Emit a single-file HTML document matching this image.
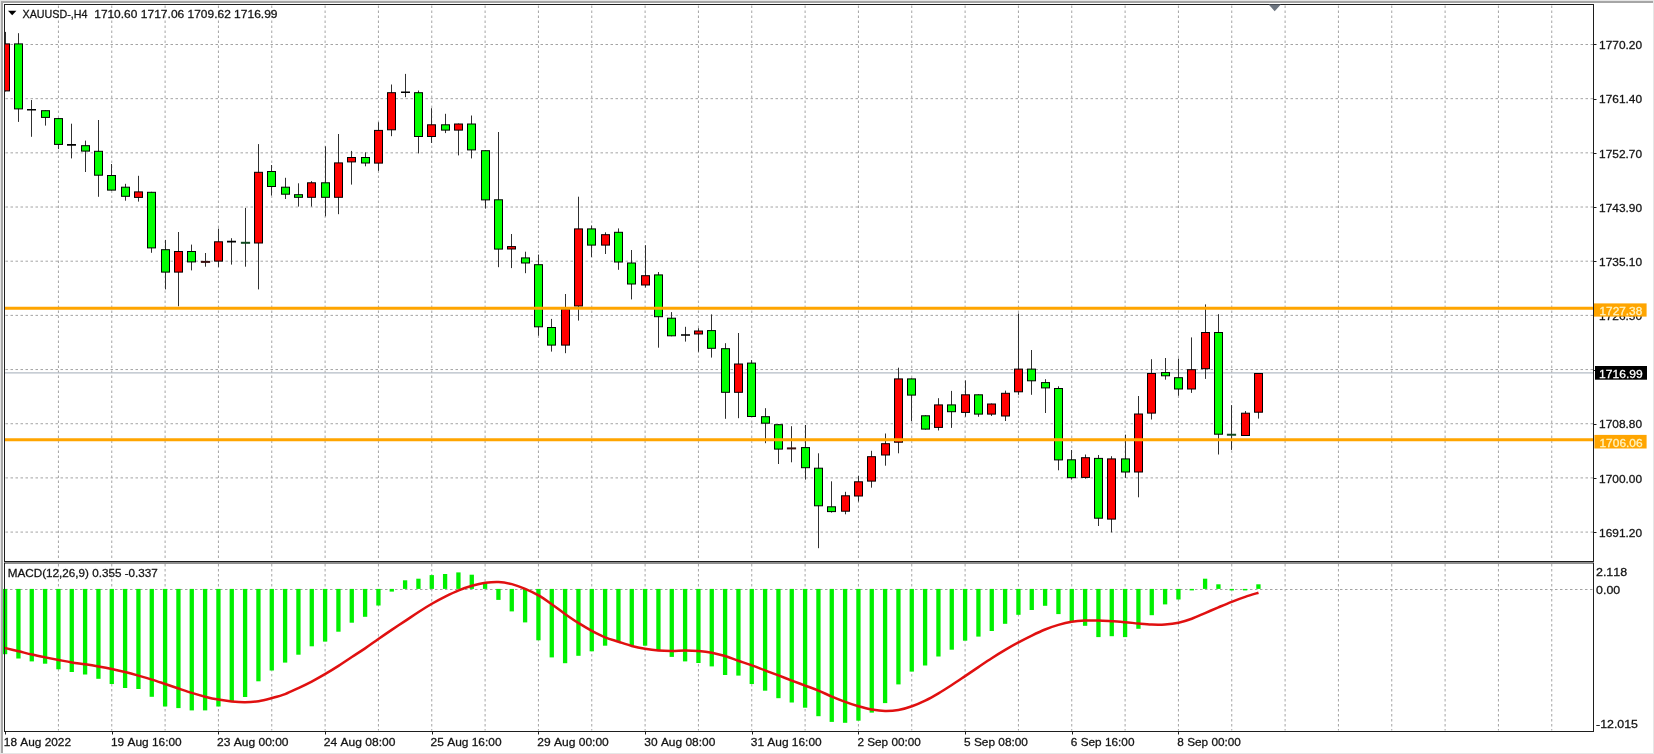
<!DOCTYPE html><html><head><meta charset="utf-8"><style>
html,body{margin:0;padding:0;background:#fff;}
body{width:1654px;height:754px;overflow:hidden;position:relative;font-family:"Liberation Sans", sans-serif;}
svg{position:absolute;left:0;top:0;will-change:transform;}
</style></head><body>
<svg width="1654" height="754" viewBox="0 0 1654 754">
<rect x="0" y="0" width="1654" height="754" fill="#e6e6e6"/>
<rect x="1" y="1" width="1652" height="752" fill="#a6a6a6"/>
<rect x="3" y="3" width="1650" height="750" fill="#ffffff"/>
<line x1="58.43" y1="5.5" x2="58.43" y2="560.5" stroke="#a4a4a4" stroke-width="1" stroke-dasharray="2.5 2.5"/>
<line x1="58.43" y1="564.0" x2="58.43" y2="730.5" stroke="#a4a4a4" stroke-width="1" stroke-dasharray="2.5 2.5"/>
<line x1="111.77" y1="5.5" x2="111.77" y2="560.5" stroke="#a4a4a4" stroke-width="1" stroke-dasharray="2.5 2.5"/>
<line x1="111.77" y1="564.0" x2="111.77" y2="730.5" stroke="#a4a4a4" stroke-width="1" stroke-dasharray="2.5 2.5"/>
<line x1="165.1" y1="5.5" x2="165.1" y2="560.5" stroke="#a4a4a4" stroke-width="1" stroke-dasharray="2.5 2.5"/>
<line x1="165.1" y1="564.0" x2="165.1" y2="730.5" stroke="#a4a4a4" stroke-width="1" stroke-dasharray="2.5 2.5"/>
<line x1="218.43" y1="5.5" x2="218.43" y2="560.5" stroke="#a4a4a4" stroke-width="1" stroke-dasharray="2.5 2.5"/>
<line x1="218.43" y1="564.0" x2="218.43" y2="730.5" stroke="#a4a4a4" stroke-width="1" stroke-dasharray="2.5 2.5"/>
<line x1="271.77" y1="5.5" x2="271.77" y2="560.5" stroke="#a4a4a4" stroke-width="1" stroke-dasharray="2.5 2.5"/>
<line x1="271.77" y1="564.0" x2="271.77" y2="730.5" stroke="#a4a4a4" stroke-width="1" stroke-dasharray="2.5 2.5"/>
<line x1="325.1" y1="5.5" x2="325.1" y2="560.5" stroke="#a4a4a4" stroke-width="1" stroke-dasharray="2.5 2.5"/>
<line x1="325.1" y1="564.0" x2="325.1" y2="730.5" stroke="#a4a4a4" stroke-width="1" stroke-dasharray="2.5 2.5"/>
<line x1="378.43" y1="5.5" x2="378.43" y2="560.5" stroke="#a4a4a4" stroke-width="1" stroke-dasharray="2.5 2.5"/>
<line x1="378.43" y1="564.0" x2="378.43" y2="730.5" stroke="#a4a4a4" stroke-width="1" stroke-dasharray="2.5 2.5"/>
<line x1="431.77" y1="5.5" x2="431.77" y2="560.5" stroke="#a4a4a4" stroke-width="1" stroke-dasharray="2.5 2.5"/>
<line x1="431.77" y1="564.0" x2="431.77" y2="730.5" stroke="#a4a4a4" stroke-width="1" stroke-dasharray="2.5 2.5"/>
<line x1="485.1" y1="5.5" x2="485.1" y2="560.5" stroke="#a4a4a4" stroke-width="1" stroke-dasharray="2.5 2.5"/>
<line x1="485.1" y1="564.0" x2="485.1" y2="730.5" stroke="#a4a4a4" stroke-width="1" stroke-dasharray="2.5 2.5"/>
<line x1="538.43" y1="5.5" x2="538.43" y2="560.5" stroke="#a4a4a4" stroke-width="1" stroke-dasharray="2.5 2.5"/>
<line x1="538.43" y1="564.0" x2="538.43" y2="730.5" stroke="#a4a4a4" stroke-width="1" stroke-dasharray="2.5 2.5"/>
<line x1="591.77" y1="5.5" x2="591.77" y2="560.5" stroke="#a4a4a4" stroke-width="1" stroke-dasharray="2.5 2.5"/>
<line x1="591.77" y1="564.0" x2="591.77" y2="730.5" stroke="#a4a4a4" stroke-width="1" stroke-dasharray="2.5 2.5"/>
<line x1="645.1" y1="5.5" x2="645.1" y2="560.5" stroke="#a4a4a4" stroke-width="1" stroke-dasharray="2.5 2.5"/>
<line x1="645.1" y1="564.0" x2="645.1" y2="730.5" stroke="#a4a4a4" stroke-width="1" stroke-dasharray="2.5 2.5"/>
<line x1="698.43" y1="5.5" x2="698.43" y2="560.5" stroke="#a4a4a4" stroke-width="1" stroke-dasharray="2.5 2.5"/>
<line x1="698.43" y1="564.0" x2="698.43" y2="730.5" stroke="#a4a4a4" stroke-width="1" stroke-dasharray="2.5 2.5"/>
<line x1="751.76" y1="5.5" x2="751.76" y2="560.5" stroke="#a4a4a4" stroke-width="1" stroke-dasharray="2.5 2.5"/>
<line x1="751.76" y1="564.0" x2="751.76" y2="730.5" stroke="#a4a4a4" stroke-width="1" stroke-dasharray="2.5 2.5"/>
<line x1="805.1" y1="5.5" x2="805.1" y2="560.5" stroke="#a4a4a4" stroke-width="1" stroke-dasharray="2.5 2.5"/>
<line x1="805.1" y1="564.0" x2="805.1" y2="730.5" stroke="#a4a4a4" stroke-width="1" stroke-dasharray="2.5 2.5"/>
<line x1="858.43" y1="5.5" x2="858.43" y2="560.5" stroke="#a4a4a4" stroke-width="1" stroke-dasharray="2.5 2.5"/>
<line x1="858.43" y1="564.0" x2="858.43" y2="730.5" stroke="#a4a4a4" stroke-width="1" stroke-dasharray="2.5 2.5"/>
<line x1="911.76" y1="5.5" x2="911.76" y2="560.5" stroke="#a4a4a4" stroke-width="1" stroke-dasharray="2.5 2.5"/>
<line x1="911.76" y1="564.0" x2="911.76" y2="730.5" stroke="#a4a4a4" stroke-width="1" stroke-dasharray="2.5 2.5"/>
<line x1="965.1" y1="5.5" x2="965.1" y2="560.5" stroke="#a4a4a4" stroke-width="1" stroke-dasharray="2.5 2.5"/>
<line x1="965.1" y1="564.0" x2="965.1" y2="730.5" stroke="#a4a4a4" stroke-width="1" stroke-dasharray="2.5 2.5"/>
<line x1="1018.43" y1="5.5" x2="1018.43" y2="560.5" stroke="#a4a4a4" stroke-width="1" stroke-dasharray="2.5 2.5"/>
<line x1="1018.43" y1="564.0" x2="1018.43" y2="730.5" stroke="#a4a4a4" stroke-width="1" stroke-dasharray="2.5 2.5"/>
<line x1="1071.76" y1="5.5" x2="1071.76" y2="560.5" stroke="#a4a4a4" stroke-width="1" stroke-dasharray="2.5 2.5"/>
<line x1="1071.76" y1="564.0" x2="1071.76" y2="730.5" stroke="#a4a4a4" stroke-width="1" stroke-dasharray="2.5 2.5"/>
<line x1="1125.1" y1="5.5" x2="1125.1" y2="560.5" stroke="#a4a4a4" stroke-width="1" stroke-dasharray="2.5 2.5"/>
<line x1="1125.1" y1="564.0" x2="1125.1" y2="730.5" stroke="#a4a4a4" stroke-width="1" stroke-dasharray="2.5 2.5"/>
<line x1="1178.43" y1="5.5" x2="1178.43" y2="560.5" stroke="#a4a4a4" stroke-width="1" stroke-dasharray="2.5 2.5"/>
<line x1="1178.43" y1="564.0" x2="1178.43" y2="730.5" stroke="#a4a4a4" stroke-width="1" stroke-dasharray="2.5 2.5"/>
<line x1="1231.76" y1="5.5" x2="1231.76" y2="560.5" stroke="#a4a4a4" stroke-width="1" stroke-dasharray="2.5 2.5"/>
<line x1="1231.76" y1="564.0" x2="1231.76" y2="730.5" stroke="#a4a4a4" stroke-width="1" stroke-dasharray="2.5 2.5"/>
<line x1="1285.1" y1="5.5" x2="1285.1" y2="560.5" stroke="#a4a4a4" stroke-width="1" stroke-dasharray="2.5 2.5"/>
<line x1="1285.1" y1="564.0" x2="1285.1" y2="730.5" stroke="#a4a4a4" stroke-width="1" stroke-dasharray="2.5 2.5"/>
<line x1="1338.43" y1="5.5" x2="1338.43" y2="560.5" stroke="#a4a4a4" stroke-width="1" stroke-dasharray="2.5 2.5"/>
<line x1="1338.43" y1="564.0" x2="1338.43" y2="730.5" stroke="#a4a4a4" stroke-width="1" stroke-dasharray="2.5 2.5"/>
<line x1="1391.76" y1="5.5" x2="1391.76" y2="560.5" stroke="#a4a4a4" stroke-width="1" stroke-dasharray="2.5 2.5"/>
<line x1="1391.76" y1="564.0" x2="1391.76" y2="730.5" stroke="#a4a4a4" stroke-width="1" stroke-dasharray="2.5 2.5"/>
<line x1="1445.1" y1="5.5" x2="1445.1" y2="560.5" stroke="#a4a4a4" stroke-width="1" stroke-dasharray="2.5 2.5"/>
<line x1="1445.1" y1="564.0" x2="1445.1" y2="730.5" stroke="#a4a4a4" stroke-width="1" stroke-dasharray="2.5 2.5"/>
<line x1="1498.43" y1="5.5" x2="1498.43" y2="560.5" stroke="#a4a4a4" stroke-width="1" stroke-dasharray="2.5 2.5"/>
<line x1="1498.43" y1="564.0" x2="1498.43" y2="730.5" stroke="#a4a4a4" stroke-width="1" stroke-dasharray="2.5 2.5"/>
<line x1="1551.76" y1="5.5" x2="1551.76" y2="560.5" stroke="#a4a4a4" stroke-width="1" stroke-dasharray="2.5 2.5"/>
<line x1="1551.76" y1="564.0" x2="1551.76" y2="730.5" stroke="#a4a4a4" stroke-width="1" stroke-dasharray="2.5 2.5"/>
<line x1="5.5" y1="44.5" x2="1593.5" y2="44.5" stroke="#a4a4a4" stroke-width="1" stroke-dasharray="2.5 2.5"/>
<line x1="5.5" y1="98.67" x2="1593.5" y2="98.67" stroke="#a4a4a4" stroke-width="1" stroke-dasharray="2.5 2.5"/>
<line x1="5.5" y1="152.85" x2="1593.5" y2="152.85" stroke="#a4a4a4" stroke-width="1" stroke-dasharray="2.5 2.5"/>
<line x1="5.5" y1="207.02" x2="1593.5" y2="207.02" stroke="#a4a4a4" stroke-width="1" stroke-dasharray="2.5 2.5"/>
<line x1="5.5" y1="261.2" x2="1593.5" y2="261.2" stroke="#a4a4a4" stroke-width="1" stroke-dasharray="2.5 2.5"/>
<line x1="5.5" y1="315.38" x2="1593.5" y2="315.38" stroke="#a4a4a4" stroke-width="1" stroke-dasharray="2.5 2.5"/>
<line x1="5.5" y1="369.55" x2="1593.5" y2="369.55" stroke="#a4a4a4" stroke-width="1" stroke-dasharray="2.5 2.5"/>
<line x1="5.5" y1="423.72" x2="1593.5" y2="423.72" stroke="#a4a4a4" stroke-width="1" stroke-dasharray="2.5 2.5"/>
<line x1="5.5" y1="477.9" x2="1593.5" y2="477.9" stroke="#a4a4a4" stroke-width="1" stroke-dasharray="2.5 2.5"/>
<line x1="5.5" y1="532.08" x2="1593.5" y2="532.08" stroke="#a4a4a4" stroke-width="1" stroke-dasharray="2.5 2.5"/>
<line x1="5" y1="589.5" x2="1593.5" y2="589.5" stroke="#a4a4a4" stroke-width="1" stroke-dasharray="2.5 2.5"/>
<line x1="5" y1="372.8" x2="1593.5" y2="372.8" stroke="#b4bcc6" stroke-width="1.2"/>
<clipPath id="cm"><rect x="5" y="5" width="1588.5" height="556.0"/></clipPath>
<g clip-path="url(#cm)">
<line x1="5.50" y1="31.9" x2="5.50" y2="91.4" stroke="#303030" stroke-width="1"/>
<rect x="1.50" y="43.90" width="8" height="47.00" fill="#ff0000" stroke="#000" stroke-width="1"/>
<line x1="18.50" y1="33.2" x2="18.50" y2="121.9" stroke="#303030" stroke-width="1"/>
<rect x="14.50" y="43.90" width="8" height="65.00" fill="#00ff00" stroke="#000" stroke-width="1"/>
<line x1="31.50" y1="100" x2="31.50" y2="136.8" stroke="#303030" stroke-width="1"/>
<line x1="27.00" y1="109.7" x2="36.00" y2="109.7" stroke="#000" stroke-width="1.6"/>
<line x1="45.50" y1="110.2" x2="45.50" y2="125.6" stroke="#303030" stroke-width="1"/>
<rect x="41.50" y="110.70" width="8" height="6.70" fill="#00ff00" stroke="#000" stroke-width="1"/>
<line x1="58.50" y1="118" x2="58.50" y2="149.1" stroke="#303030" stroke-width="1"/>
<rect x="54.50" y="118.60" width="8" height="25.80" fill="#00ff00" stroke="#000" stroke-width="1"/>
<line x1="71.50" y1="123.7" x2="71.50" y2="158.4" stroke="#303030" stroke-width="1"/>
<line x1="67.00" y1="144.9" x2="76.00" y2="144.9" stroke="#000" stroke-width="1.6"/>
<line x1="85.50" y1="140.6" x2="85.50" y2="172" stroke="#303030" stroke-width="1"/>
<rect x="81.50" y="145.70" width="8" height="5.40" fill="#00ff00" stroke="#000" stroke-width="1"/>
<line x1="98.50" y1="120" x2="98.50" y2="196.8" stroke="#303030" stroke-width="1"/>
<rect x="94.50" y="151.30" width="8" height="23.90" fill="#00ff00" stroke="#000" stroke-width="1"/>
<line x1="111.50" y1="164" x2="111.50" y2="190.6" stroke="#303030" stroke-width="1"/>
<rect x="107.50" y="175.50" width="8" height="14.60" fill="#00ff00" stroke="#000" stroke-width="1"/>
<line x1="125.50" y1="183.8" x2="125.50" y2="200.7" stroke="#303030" stroke-width="1"/>
<rect x="121.50" y="187.20" width="8" height="9.10" fill="#00ff00" stroke="#000" stroke-width="1"/>
<line x1="138.50" y1="175.8" x2="138.50" y2="201.6" stroke="#303030" stroke-width="1"/>
<rect x="134.50" y="191.90" width="8" height="5.50" fill="#ff0000" stroke="#000" stroke-width="1"/>
<line x1="151.50" y1="191.8" x2="151.50" y2="252.8" stroke="#303030" stroke-width="1"/>
<rect x="147.50" y="192.30" width="8" height="55.60" fill="#00ff00" stroke="#000" stroke-width="1"/>
<line x1="165.50" y1="239.9" x2="165.50" y2="289.4" stroke="#303030" stroke-width="1"/>
<rect x="161.50" y="249.70" width="8" height="22.40" fill="#00ff00" stroke="#000" stroke-width="1"/>
<line x1="178.50" y1="232" x2="178.50" y2="306.3" stroke="#303030" stroke-width="1"/>
<rect x="174.50" y="251.50" width="8" height="20.60" fill="#ff0000" stroke="#000" stroke-width="1"/>
<line x1="191.50" y1="244.6" x2="191.50" y2="270.4" stroke="#303030" stroke-width="1"/>
<rect x="187.50" y="251.50" width="8" height="10.40" fill="#00ff00" stroke="#000" stroke-width="1"/>
<line x1="205.50" y1="253" x2="205.50" y2="266.7" stroke="#303030" stroke-width="1"/>
<rect x="200.90" y="260.90" width="9.2" height="2.0" fill="#3a1010"/>
<line x1="218.50" y1="228.6" x2="218.50" y2="267" stroke="#303030" stroke-width="1"/>
<rect x="214.50" y="241.80" width="8" height="19.30" fill="#ff0000" stroke="#000" stroke-width="1"/>
<line x1="231.50" y1="238.2" x2="231.50" y2="264.6" stroke="#303030" stroke-width="1"/>
<line x1="227.00" y1="241.6" x2="236.00" y2="241.6" stroke="#000" stroke-width="1.6"/>
<line x1="245.50" y1="207.9" x2="245.50" y2="266.7" stroke="#303030" stroke-width="1"/>
<rect x="240.90" y="241.80" width="9.2" height="2.0" fill="#104a20"/>
<line x1="258.50" y1="144.1" x2="258.50" y2="289.4" stroke="#303030" stroke-width="1"/>
<rect x="254.50" y="172.30" width="8" height="70.70" fill="#ff0000" stroke="#000" stroke-width="1"/>
<line x1="271.50" y1="165" x2="271.50" y2="195.6" stroke="#303030" stroke-width="1"/>
<rect x="267.50" y="171.50" width="8" height="15.00" fill="#00ff00" stroke="#000" stroke-width="1"/>
<line x1="285.50" y1="177.8" x2="285.50" y2="199" stroke="#303030" stroke-width="1"/>
<rect x="281.50" y="187.20" width="8" height="7.00" fill="#00ff00" stroke="#000" stroke-width="1"/>
<line x1="298.50" y1="183.3" x2="298.50" y2="206.6" stroke="#303030" stroke-width="1"/>
<rect x="294.50" y="194.70" width="8" height="2.60" fill="#00ff00" stroke="#000" stroke-width="1"/>
<line x1="311.50" y1="181.1" x2="311.50" y2="206.6" stroke="#303030" stroke-width="1"/>
<rect x="307.50" y="182.80" width="8" height="14.50" fill="#ff0000" stroke="#000" stroke-width="1"/>
<line x1="325.50" y1="146.3" x2="325.50" y2="216.4" stroke="#303030" stroke-width="1"/>
<rect x="321.50" y="182.80" width="8" height="14.50" fill="#00ff00" stroke="#000" stroke-width="1"/>
<line x1="338.50" y1="134" x2="338.50" y2="214.2" stroke="#303030" stroke-width="1"/>
<rect x="334.50" y="162.90" width="8" height="34.40" fill="#ff0000" stroke="#000" stroke-width="1"/>
<line x1="351.50" y1="150.9" x2="351.50" y2="184.6" stroke="#303030" stroke-width="1"/>
<rect x="347.50" y="157.50" width="8" height="4.40" fill="#ff0000" stroke="#000" stroke-width="1"/>
<line x1="365.50" y1="152.3" x2="365.50" y2="166.3" stroke="#303030" stroke-width="1"/>
<rect x="361.50" y="157.50" width="8" height="5.50" fill="#00ff00" stroke="#000" stroke-width="1"/>
<line x1="378.50" y1="122.3" x2="378.50" y2="170.9" stroke="#303030" stroke-width="1"/>
<rect x="374.50" y="130.40" width="8" height="32.70" fill="#ff0000" stroke="#000" stroke-width="1"/>
<line x1="391.50" y1="84.5" x2="391.50" y2="136.2" stroke="#303030" stroke-width="1"/>
<rect x="387.50" y="92.70" width="8" height="37.10" fill="#ff0000" stroke="#000" stroke-width="1"/>
<line x1="405.50" y1="73.9" x2="405.50" y2="97.2" stroke="#303030" stroke-width="1"/>
<line x1="401.00" y1="92.2" x2="410.00" y2="92.2" stroke="#000" stroke-width="1.6"/>
<line x1="418.50" y1="90.5" x2="418.50" y2="153.4" stroke="#303030" stroke-width="1"/>
<rect x="414.50" y="92.70" width="8" height="43.80" fill="#00ff00" stroke="#000" stroke-width="1"/>
<line x1="431.50" y1="108.2" x2="431.50" y2="143" stroke="#303030" stroke-width="1"/>
<rect x="427.50" y="124.80" width="8" height="11.70" fill="#ff0000" stroke="#000" stroke-width="1"/>
<line x1="445.50" y1="113.8" x2="445.50" y2="133.1" stroke="#303030" stroke-width="1"/>
<rect x="441.50" y="124.80" width="8" height="5.30" fill="#00ff00" stroke="#000" stroke-width="1"/>
<line x1="458.50" y1="123.5" x2="458.50" y2="155.4" stroke="#303030" stroke-width="1"/>
<rect x="454.50" y="124.00" width="8" height="6.10" fill="#ff0000" stroke="#000" stroke-width="1"/>
<line x1="471.50" y1="115.5" x2="471.50" y2="158.4" stroke="#303030" stroke-width="1"/>
<rect x="467.50" y="124.00" width="8" height="25.90" fill="#00ff00" stroke="#000" stroke-width="1"/>
<line x1="485.50" y1="150.2" x2="485.50" y2="208.6" stroke="#303030" stroke-width="1"/>
<rect x="481.50" y="150.70" width="8" height="49.20" fill="#00ff00" stroke="#000" stroke-width="1"/>
<line x1="498.50" y1="132" x2="498.50" y2="267.2" stroke="#303030" stroke-width="1"/>
<rect x="494.50" y="199.80" width="8" height="49.30" fill="#00ff00" stroke="#000" stroke-width="1"/>
<line x1="511.50" y1="234" x2="511.50" y2="268.1" stroke="#303030" stroke-width="1"/>
<rect x="507.50" y="246.60" width="8" height="2.40" fill="#ff0000" stroke="#000" stroke-width="1"/>
<line x1="525.50" y1="251.7" x2="525.50" y2="273.2" stroke="#303030" stroke-width="1"/>
<rect x="521.50" y="257.90" width="8" height="5.10" fill="#00ff00" stroke="#000" stroke-width="1"/>
<line x1="538.50" y1="254.6" x2="538.50" y2="335.8" stroke="#303030" stroke-width="1"/>
<rect x="534.50" y="264.70" width="8" height="62.10" fill="#00ff00" stroke="#000" stroke-width="1"/>
<line x1="551.50" y1="318.9" x2="551.50" y2="351.6" stroke="#303030" stroke-width="1"/>
<rect x="547.50" y="327.50" width="8" height="17.60" fill="#00ff00" stroke="#000" stroke-width="1"/>
<line x1="565.50" y1="294" x2="565.50" y2="353.2" stroke="#303030" stroke-width="1"/>
<rect x="561.50" y="309.20" width="8" height="35.90" fill="#ff0000" stroke="#000" stroke-width="1"/>
<line x1="578.50" y1="196.7" x2="578.50" y2="320.6" stroke="#303030" stroke-width="1"/>
<rect x="574.50" y="228.90" width="8" height="77.10" fill="#ff0000" stroke="#000" stroke-width="1"/>
<line x1="591.50" y1="225.5" x2="591.50" y2="257" stroke="#303030" stroke-width="1"/>
<rect x="587.50" y="228.90" width="8" height="16.20" fill="#00ff00" stroke="#000" stroke-width="1"/>
<line x1="605.50" y1="232.3" x2="605.50" y2="254" stroke="#303030" stroke-width="1"/>
<rect x="601.50" y="234.70" width="8" height="10.40" fill="#ff0000" stroke="#000" stroke-width="1"/>
<line x1="618.50" y1="228.4" x2="618.50" y2="269.8" stroke="#303030" stroke-width="1"/>
<rect x="614.50" y="232.30" width="8" height="29.70" fill="#00ff00" stroke="#000" stroke-width="1"/>
<line x1="631.50" y1="250" x2="631.50" y2="299.4" stroke="#303030" stroke-width="1"/>
<rect x="627.50" y="263.00" width="8" height="21.00" fill="#00ff00" stroke="#000" stroke-width="1"/>
<line x1="645.50" y1="245.2" x2="645.50" y2="287.6" stroke="#303030" stroke-width="1"/>
<rect x="641.50" y="275.70" width="8" height="9.30" fill="#ff0000" stroke="#000" stroke-width="1"/>
<line x1="658.50" y1="272" x2="658.50" y2="347.7" stroke="#303030" stroke-width="1"/>
<rect x="654.50" y="274.90" width="8" height="41.80" fill="#00ff00" stroke="#000" stroke-width="1"/>
<line x1="671.50" y1="312.1" x2="671.50" y2="336.3" stroke="#303030" stroke-width="1"/>
<rect x="667.50" y="318.20" width="8" height="17.60" fill="#00ff00" stroke="#000" stroke-width="1"/>
<line x1="685.50" y1="326.8" x2="685.50" y2="341.6" stroke="#303030" stroke-width="1"/>
<line x1="681.00" y1="335" x2="690.00" y2="335" stroke="#000" stroke-width="1.6"/>
<line x1="698.50" y1="328.2" x2="698.50" y2="351.8" stroke="#303030" stroke-width="1"/>
<rect x="694.50" y="331.00" width="8" height="3.00" fill="#ff0000" stroke="#000" stroke-width="1"/>
<line x1="711.50" y1="314.4" x2="711.50" y2="357.6" stroke="#303030" stroke-width="1"/>
<rect x="707.50" y="330.60" width="8" height="17.70" fill="#00ff00" stroke="#000" stroke-width="1"/>
<line x1="725.50" y1="343.2" x2="725.50" y2="418.8" stroke="#303030" stroke-width="1"/>
<rect x="721.50" y="348.70" width="8" height="43.60" fill="#00ff00" stroke="#000" stroke-width="1"/>
<line x1="738.50" y1="333" x2="738.50" y2="418.2" stroke="#303030" stroke-width="1"/>
<rect x="734.50" y="364.00" width="8" height="28.30" fill="#ff0000" stroke="#000" stroke-width="1"/>
<line x1="751.50" y1="360.1" x2="751.50" y2="417" stroke="#303030" stroke-width="1"/>
<rect x="747.50" y="363.10" width="8" height="53.40" fill="#00ff00" stroke="#000" stroke-width="1"/>
<line x1="765.50" y1="408.2" x2="765.50" y2="443.2" stroke="#303030" stroke-width="1"/>
<rect x="761.50" y="416.70" width="8" height="6.50" fill="#00ff00" stroke="#000" stroke-width="1"/>
<line x1="778.50" y1="424.2" x2="778.50" y2="464" stroke="#303030" stroke-width="1"/>
<rect x="774.50" y="424.70" width="8" height="24.40" fill="#00ff00" stroke="#000" stroke-width="1"/>
<line x1="791.50" y1="426.2" x2="791.50" y2="462.3" stroke="#303030" stroke-width="1"/>
<rect x="786.90" y="447.40" width="9.2" height="2.0" fill="#3a1010"/>
<line x1="805.50" y1="425" x2="805.50" y2="479.6" stroke="#303030" stroke-width="1"/>
<rect x="801.50" y="447.60" width="8" height="20.10" fill="#00ff00" stroke="#000" stroke-width="1"/>
<line x1="818.50" y1="453.3" x2="818.50" y2="548.2" stroke="#303030" stroke-width="1"/>
<rect x="814.50" y="468.20" width="8" height="37.60" fill="#00ff00" stroke="#000" stroke-width="1"/>
<line x1="831.50" y1="481.3" x2="831.50" y2="512.6" stroke="#303030" stroke-width="1"/>
<rect x="827.50" y="506.80" width="8" height="4.80" fill="#00ff00" stroke="#000" stroke-width="1"/>
<line x1="845.50" y1="491.8" x2="845.50" y2="514.3" stroke="#303030" stroke-width="1"/>
<rect x="841.50" y="495.80" width="8" height="15.40" fill="#ff0000" stroke="#000" stroke-width="1"/>
<line x1="858.50" y1="475.8" x2="858.50" y2="501.6" stroke="#303030" stroke-width="1"/>
<rect x="854.50" y="481.80" width="8" height="14.20" fill="#ff0000" stroke="#000" stroke-width="1"/>
<line x1="871.50" y1="450.8" x2="871.50" y2="487.7" stroke="#303030" stroke-width="1"/>
<rect x="867.50" y="456.70" width="8" height="24.40" fill="#ff0000" stroke="#000" stroke-width="1"/>
<line x1="885.50" y1="433.5" x2="885.50" y2="465.7" stroke="#303030" stroke-width="1"/>
<rect x="881.50" y="443.70" width="8" height="11.30" fill="#ff0000" stroke="#000" stroke-width="1"/>
<line x1="898.50" y1="367.7" x2="898.50" y2="453.3" stroke="#303030" stroke-width="1"/>
<rect x="894.50" y="378.90" width="8" height="63.30" fill="#ff0000" stroke="#000" stroke-width="1"/>
<line x1="911.50" y1="378.4" x2="911.50" y2="421" stroke="#303030" stroke-width="1"/>
<rect x="907.50" y="378.90" width="8" height="16.20" fill="#00ff00" stroke="#000" stroke-width="1"/>
<line x1="925.50" y1="415.3" x2="925.50" y2="429.6" stroke="#303030" stroke-width="1"/>
<rect x="921.50" y="415.80" width="8" height="13.30" fill="#00ff00" stroke="#000" stroke-width="1"/>
<line x1="938.50" y1="398.2" x2="938.50" y2="430.5" stroke="#303030" stroke-width="1"/>
<rect x="934.50" y="404.90" width="8" height="22.50" fill="#ff0000" stroke="#000" stroke-width="1"/>
<line x1="951.50" y1="390.9" x2="951.50" y2="427.9" stroke="#303030" stroke-width="1"/>
<rect x="947.50" y="404.90" width="8" height="6.80" fill="#00ff00" stroke="#000" stroke-width="1"/>
<line x1="965.50" y1="380.4" x2="965.50" y2="416.8" stroke="#303030" stroke-width="1"/>
<rect x="961.50" y="394.80" width="8" height="17.60" fill="#ff0000" stroke="#000" stroke-width="1"/>
<line x1="978.50" y1="394.3" x2="978.50" y2="416.8" stroke="#303030" stroke-width="1"/>
<rect x="974.50" y="394.80" width="8" height="19.30" fill="#00ff00" stroke="#000" stroke-width="1"/>
<line x1="991.50" y1="403.5" x2="991.50" y2="416" stroke="#303030" stroke-width="1"/>
<rect x="987.50" y="404.00" width="8" height="10.10" fill="#ff0000" stroke="#000" stroke-width="1"/>
<line x1="1005.50" y1="390.6" x2="1005.50" y2="421" stroke="#303030" stroke-width="1"/>
<rect x="1001.50" y="393.30" width="8" height="22.70" fill="#ff0000" stroke="#000" stroke-width="1"/>
<line x1="1018.50" y1="313.5" x2="1018.50" y2="394.8" stroke="#303030" stroke-width="1"/>
<rect x="1014.50" y="369.10" width="8" height="22.70" fill="#ff0000" stroke="#000" stroke-width="1"/>
<line x1="1031.50" y1="350" x2="1031.50" y2="394.8" stroke="#303030" stroke-width="1"/>
<rect x="1027.50" y="369.10" width="8" height="11.70" fill="#00ff00" stroke="#000" stroke-width="1"/>
<line x1="1045.50" y1="379.2" x2="1045.50" y2="413" stroke="#303030" stroke-width="1"/>
<rect x="1041.50" y="382.60" width="8" height="5.30" fill="#00ff00" stroke="#000" stroke-width="1"/>
<line x1="1058.50" y1="386.3" x2="1058.50" y2="470.3" stroke="#303030" stroke-width="1"/>
<rect x="1054.50" y="388.50" width="8" height="71.40" fill="#00ff00" stroke="#000" stroke-width="1"/>
<line x1="1071.50" y1="450" x2="1071.50" y2="479.6" stroke="#303030" stroke-width="1"/>
<rect x="1067.50" y="459.80" width="8" height="17.90" fill="#00ff00" stroke="#000" stroke-width="1"/>
<line x1="1085.50" y1="454.5" x2="1085.50" y2="478.7" stroke="#303030" stroke-width="1"/>
<rect x="1081.50" y="457.70" width="8" height="19.70" fill="#ff0000" stroke="#000" stroke-width="1"/>
<line x1="1098.50" y1="455" x2="1098.50" y2="526" stroke="#303030" stroke-width="1"/>
<rect x="1094.50" y="458.40" width="8" height="59.80" fill="#00ff00" stroke="#000" stroke-width="1"/>
<line x1="1111.50" y1="456.2" x2="1111.50" y2="532.4" stroke="#303030" stroke-width="1"/>
<rect x="1107.50" y="458.90" width="8" height="60.20" fill="#ff0000" stroke="#000" stroke-width="1"/>
<line x1="1125.50" y1="434.7" x2="1125.50" y2="477.9" stroke="#303030" stroke-width="1"/>
<rect x="1121.50" y="458.90" width="8" height="13.10" fill="#00ff00" stroke="#000" stroke-width="1"/>
<line x1="1138.50" y1="396" x2="1138.50" y2="497.3" stroke="#303030" stroke-width="1"/>
<rect x="1134.50" y="414.00" width="8" height="58.00" fill="#ff0000" stroke="#000" stroke-width="1"/>
<line x1="1151.50" y1="359.2" x2="1151.50" y2="419.5" stroke="#303030" stroke-width="1"/>
<rect x="1147.50" y="373.50" width="8" height="39.60" fill="#ff0000" stroke="#000" stroke-width="1"/>
<line x1="1165.50" y1="358" x2="1165.50" y2="379.7" stroke="#303030" stroke-width="1"/>
<rect x="1161.50" y="372.60" width="8" height="3.20" fill="#00ff00" stroke="#000" stroke-width="1"/>
<line x1="1178.50" y1="358.6" x2="1178.50" y2="395.8" stroke="#303030" stroke-width="1"/>
<rect x="1174.50" y="377.70" width="8" height="11.30" fill="#00ff00" stroke="#000" stroke-width="1"/>
<line x1="1191.50" y1="337.4" x2="1191.50" y2="392.9" stroke="#303030" stroke-width="1"/>
<rect x="1187.50" y="369.70" width="8" height="19.30" fill="#ff0000" stroke="#000" stroke-width="1"/>
<line x1="1205.50" y1="304.4" x2="1205.50" y2="378.9" stroke="#303030" stroke-width="1"/>
<rect x="1201.50" y="332.50" width="8" height="36.20" fill="#ff0000" stroke="#000" stroke-width="1"/>
<line x1="1218.50" y1="314.2" x2="1218.50" y2="454.5" stroke="#303030" stroke-width="1"/>
<rect x="1214.50" y="332.50" width="8" height="101.70" fill="#00ff00" stroke="#000" stroke-width="1"/>
<line x1="1231.50" y1="405.1" x2="1231.50" y2="449.9" stroke="#303030" stroke-width="1"/>
<rect x="1226.90" y="433.75" width="9.2" height="2.0" fill="#104a20"/>
<line x1="1245.50" y1="411" x2="1245.50" y2="436" stroke="#303030" stroke-width="1"/>
<rect x="1241.50" y="413.20" width="8" height="22.30" fill="#ff0000" stroke="#000" stroke-width="1"/>
<line x1="1258.50" y1="373" x2="1258.50" y2="418.6" stroke="#303030" stroke-width="1"/>
<rect x="1254.50" y="373.50" width="8" height="38.70" fill="#ff0000" stroke="#000" stroke-width="1"/>
</g>
<line x1="5" y1="308.2" x2="1593.5" y2="308.2" stroke="#ffa500" stroke-width="3"/>
<line x1="5" y1="439.8" x2="1593.5" y2="439.8" stroke="#ffa500" stroke-width="3"/>
<g fill="#00f000">
<rect x="2.95" y="588.90" width="4.3" height="65.30"/>
<rect x="16.28" y="588.90" width="4.3" height="69.60"/>
<rect x="29.62" y="588.90" width="4.3" height="72.50"/>
<rect x="42.95" y="588.90" width="4.3" height="74.80"/>
<rect x="56.28" y="588.90" width="4.3" height="80.40"/>
<rect x="69.62" y="588.90" width="4.3" height="83.10"/>
<rect x="82.95" y="588.90" width="4.3" height="85.60"/>
<rect x="96.28" y="588.90" width="4.3" height="89.90"/>
<rect x="109.62" y="588.90" width="4.3" height="95.10"/>
<rect x="122.95" y="588.90" width="4.3" height="99.10"/>
<rect x="136.28" y="588.90" width="4.3" height="100.10"/>
<rect x="149.62" y="588.90" width="4.3" height="107.90"/>
<rect x="162.95" y="588.90" width="4.3" height="117.60"/>
<rect x="176.28" y="588.90" width="4.3" height="119.20"/>
<rect x="189.62" y="588.90" width="4.3" height="121.50"/>
<rect x="202.95" y="588.90" width="4.3" height="121.50"/>
<rect x="216.28" y="588.90" width="4.3" height="117.60"/>
<rect x="229.62" y="588.90" width="4.3" height="112.00"/>
<rect x="242.95" y="588.90" width="4.3" height="108.10"/>
<rect x="256.28" y="588.90" width="4.3" height="92.40"/>
<rect x="269.62" y="588.90" width="4.3" height="81.60"/>
<rect x="282.95" y="588.90" width="4.3" height="73.70"/>
<rect x="296.28" y="588.90" width="4.3" height="65.80"/>
<rect x="309.62" y="588.90" width="4.3" height="57.40"/>
<rect x="322.95" y="588.90" width="4.3" height="52.70"/>
<rect x="336.28" y="588.90" width="4.3" height="42.80"/>
<rect x="349.62" y="588.90" width="4.3" height="33.80"/>
<rect x="362.95" y="588.90" width="4.3" height="27.90"/>
<rect x="376.28" y="588.90" width="4.3" height="16.60"/>
<rect x="389.62" y="588.90" width="4.3" height="2.70"/>
<rect x="402.95" y="580.30" width="4.3" height="8.60"/>
<rect x="416.28" y="578.70" width="4.3" height="10.20"/>
<rect x="429.62" y="575.10" width="4.3" height="13.80"/>
<rect x="442.95" y="574.00" width="4.3" height="14.90"/>
<rect x="456.28" y="572.40" width="4.3" height="16.50"/>
<rect x="469.62" y="574.70" width="4.3" height="14.20"/>
<rect x="482.95" y="583.20" width="4.3" height="5.70"/>
<rect x="496.28" y="588.90" width="4.3" height="11.00"/>
<rect x="509.62" y="588.90" width="4.3" height="22.50"/>
<rect x="522.95" y="588.90" width="4.3" height="33.50"/>
<rect x="536.28" y="588.90" width="4.3" height="51.40"/>
<rect x="549.62" y="588.90" width="4.3" height="68.50"/>
<rect x="562.95" y="588.90" width="4.3" height="74.30"/>
<rect x="576.28" y="588.90" width="4.3" height="66.90"/>
<rect x="589.62" y="588.90" width="4.3" height="62.40"/>
<rect x="602.95" y="588.90" width="4.3" height="56.80"/>
<rect x="616.28" y="588.90" width="4.3" height="52.70"/>
<rect x="629.62" y="588.90" width="4.3" height="56.80"/>
<rect x="642.95" y="588.90" width="4.3" height="56.80"/>
<rect x="656.28" y="588.90" width="4.3" height="61.30"/>
<rect x="669.62" y="588.90" width="4.3" height="68.00"/>
<rect x="682.95" y="588.90" width="4.3" height="72.50"/>
<rect x="696.28" y="588.90" width="4.3" height="74.10"/>
<rect x="709.61" y="588.90" width="4.3" height="77.50"/>
<rect x="722.95" y="588.90" width="4.3" height="86.10"/>
<rect x="736.28" y="588.90" width="4.3" height="86.70"/>
<rect x="749.61" y="588.90" width="4.3" height="95.10"/>
<rect x="762.95" y="588.90" width="4.3" height="101.80"/>
<rect x="776.28" y="588.90" width="4.3" height="109.30"/>
<rect x="789.61" y="588.90" width="4.3" height="113.60"/>
<rect x="802.95" y="588.90" width="4.3" height="118.80"/>
<rect x="816.28" y="588.90" width="4.3" height="127.30"/>
<rect x="829.61" y="588.90" width="4.3" height="133.00"/>
<rect x="842.95" y="588.90" width="4.3" height="133.90"/>
<rect x="856.28" y="588.90" width="4.3" height="131.80"/>
<rect x="869.61" y="588.90" width="4.3" height="123.70"/>
<rect x="882.95" y="588.90" width="4.3" height="114.20"/>
<rect x="896.28" y="588.90" width="4.3" height="95.50"/>
<rect x="909.61" y="588.90" width="4.3" height="82.70"/>
<rect x="922.95" y="588.90" width="4.3" height="76.60"/>
<rect x="936.28" y="588.90" width="4.3" height="67.60"/>
<rect x="949.61" y="588.90" width="4.3" height="60.80"/>
<rect x="962.95" y="588.90" width="4.3" height="51.80"/>
<rect x="976.28" y="588.90" width="4.3" height="47.70"/>
<rect x="989.61" y="588.90" width="4.3" height="42.10"/>
<rect x="1002.95" y="588.90" width="4.3" height="34.90"/>
<rect x="1016.28" y="588.90" width="4.3" height="25.90"/>
<rect x="1029.61" y="588.90" width="4.3" height="21.10"/>
<rect x="1042.95" y="588.90" width="4.3" height="16.90"/>
<rect x="1056.28" y="588.90" width="4.3" height="25.20"/>
<rect x="1069.61" y="588.90" width="4.3" height="32.40"/>
<rect x="1082.95" y="588.90" width="4.3" height="36.90"/>
<rect x="1096.28" y="588.90" width="4.3" height="48.20"/>
<rect x="1109.61" y="588.90" width="4.3" height="47.30"/>
<rect x="1122.95" y="588.90" width="4.3" height="48.20"/>
<rect x="1136.28" y="588.90" width="4.3" height="39.90"/>
<rect x="1149.61" y="588.90" width="4.3" height="26.30"/>
<rect x="1162.95" y="588.90" width="4.3" height="15.50"/>
<rect x="1176.28" y="588.90" width="4.3" height="10.60"/>
<rect x="1189.61" y="588.90" width="4.3" height="1.50"/>
<rect x="1202.95" y="578.70" width="4.3" height="10.20"/>
<rect x="1216.28" y="584.30" width="4.3" height="4.60"/>
<rect x="1229.61" y="588.90" width="4.3" height="1.50"/>
<rect x="1242.95" y="588.90" width="4.3" height="1.50"/>
<rect x="1256.28" y="584.30" width="4.3" height="4.60"/>
</g>
<path d="M4.50,647.90 C6.87,648.47 14.12,650.19 18.70,651.30 C23.28,652.41 27.57,653.57 32.00,654.58 C36.43,655.59 40.87,656.48 45.30,657.37 C49.73,658.26 54.17,659.09 58.60,659.93 C63.03,660.77 67.47,661.68 71.90,662.40 C76.33,663.12 80.77,663.56 85.20,664.23 C89.63,664.91 94.07,665.64 98.50,666.43 C102.93,667.23 107.37,668.06 111.80,669.00 C116.23,669.94 120.67,670.98 125.10,672.08 C129.53,673.19 133.93,674.40 138.40,675.65 C142.87,676.90 147.43,678.21 151.90,679.60 C156.37,680.99 160.77,682.52 165.20,684.00 C169.63,685.48 174.07,687.02 178.50,688.50 C182.93,689.98 187.37,691.52 191.80,692.88 C196.23,694.24 200.67,695.55 205.10,696.67 C209.53,697.79 213.97,698.80 218.40,699.60 C222.83,700.40 227.27,701.02 231.70,701.45 C236.13,701.88 240.52,702.25 245.00,702.20 C249.48,702.15 254.12,701.84 258.60,701.15 C263.08,700.46 267.48,699.21 271.90,698.03 C276.32,696.85 280.68,695.73 285.10,694.07 C289.52,692.40 293.97,690.14 298.40,688.05 C302.83,685.96 307.27,683.83 311.70,681.52 C316.13,679.20 320.53,676.76 325.00,674.15 C329.47,671.54 334.03,668.72 338.50,665.87 C342.97,663.01 347.37,659.95 351.80,657.03 C356.23,654.12 360.67,651.37 365.10,648.37 C369.53,645.36 373.97,642.09 378.40,639.02 C382.83,635.94 387.22,632.92 391.70,629.90 C396.18,626.88 400.82,623.88 405.30,620.88 C409.78,617.89 414.17,614.79 418.60,611.93 C423.03,609.07 427.47,606.27 431.90,603.72 C436.33,601.16 440.73,598.81 445.20,596.58 C449.67,594.35 454.23,592.14 458.70,590.33 C463.17,588.53 467.57,587.00 472.00,585.75 C476.43,584.50 480.87,583.45 485.30,582.82 C489.73,582.19 494.17,581.75 498.60,581.97 C503.03,582.19 507.47,582.99 511.90,584.13 C516.33,585.28 520.77,586.97 525.20,588.85 C529.63,590.73 534.08,592.88 538.50,595.43 C542.92,597.99 547.28,601.10 551.70,604.18 C556.12,607.26 560.57,610.79 565.00,613.92 C569.43,617.04 573.83,620.10 578.30,622.92 C582.77,625.73 587.33,628.42 591.80,630.82 C596.27,633.21 600.67,635.48 605.10,637.30 C609.53,639.12 613.97,640.31 618.40,641.75 C622.83,643.19 627.27,644.78 631.70,645.97 C636.13,647.15 640.55,648.08 645.00,648.85 C649.45,649.62 653.92,650.22 658.40,650.58 C662.88,650.95 667.43,651.05 671.90,651.03 C676.37,651.02 680.77,650.49 685.20,650.48 C689.63,650.47 694.07,650.60 698.50,650.97 C702.93,651.34 707.37,651.85 711.80,652.70 C716.23,653.55 720.67,654.73 725.10,656.07 C729.53,657.40 733.93,659.16 738.40,660.72 C742.87,662.28 747.43,663.79 751.90,665.42 C756.37,667.04 760.77,668.78 765.20,670.45 C769.63,672.12 774.07,673.76 778.50,675.45 C782.93,677.14 787.37,678.88 791.80,680.57 C796.23,682.25 800.67,683.88 805.10,685.55 C809.53,687.22 813.93,688.76 818.40,690.60 C822.87,692.44 827.43,694.70 831.90,696.58 C836.37,698.46 840.77,700.26 845.20,701.88 C849.63,703.51 854.07,705.03 858.50,706.32 C862.93,707.60 867.37,708.81 871.80,709.60 C876.23,710.39 880.67,711.01 885.10,711.08 C889.53,711.16 893.93,710.87 898.40,710.07 C902.87,709.26 907.43,707.83 911.90,706.25 C916.37,704.67 920.77,702.75 925.20,700.60 C929.63,698.45 934.07,695.93 938.50,693.33 C942.93,690.73 947.37,687.87 951.80,685.00 C956.23,682.13 960.67,679.08 965.10,676.10 C969.53,673.12 973.97,670.08 978.40,667.10 C982.83,664.12 987.23,661.07 991.70,658.20 C996.17,655.33 1000.73,652.50 1005.20,649.87 C1009.67,647.23 1014.07,644.78 1018.50,642.40 C1022.93,640.02 1027.37,637.73 1031.80,635.58 C1036.23,633.43 1040.67,631.28 1045.10,629.50 C1049.53,627.72 1053.97,626.19 1058.40,624.92 C1062.83,623.64 1067.27,622.57 1071.70,621.85 C1076.13,621.13 1080.53,620.80 1085.00,620.58 C1089.47,620.37 1094.03,620.44 1098.50,620.55 C1102.97,620.66 1107.37,621.00 1111.80,621.27 C1116.23,621.53 1120.67,621.77 1125.10,622.15 C1129.53,622.52 1133.97,623.12 1138.40,623.52 C1142.83,623.91 1147.27,624.36 1151.70,624.52 C1156.13,624.67 1160.53,624.74 1165.00,624.43 C1169.47,624.13 1174.03,623.65 1178.50,622.70 C1182.97,621.75 1187.37,620.36 1191.80,618.75 C1196.23,617.14 1200.67,614.97 1205.10,613.07 C1209.53,611.16 1213.97,609.19 1218.40,607.32 C1222.83,605.44 1227.23,603.54 1231.70,601.80 C1236.17,600.06 1240.73,598.38 1245.20,596.87 C1249.67,595.35 1256.28,593.39 1258.50,592.70" fill="none" stroke="#e01010" stroke-width="2.5" stroke-linejoin="round"/>
<rect x="4.5" y="4.5" width="1589" height="557" fill="none" stroke="#1e1e1e" stroke-width="1"/>
<rect x="4" y="562" width="1590" height="2" fill="#8e8e8e"/>
<line x1="4.5" y1="563" x2="4.5" y2="732" stroke="#1e1e1e" stroke-width="1"/>
<line x1="1593.5" y1="563" x2="1593.5" y2="732" stroke="#1e1e1e" stroke-width="1"/>
<line x1="4" y1="731.5" x2="1594" y2="731.5" stroke="#1e1e1e" stroke-width="1"/>
<line x1="1593.5" y1="44.5" x2="1596.5" y2="44.5" stroke="#1e1e1e" stroke-width="1"/>
<line x1="1593.5" y1="99.5" x2="1596.5" y2="99.5" stroke="#1e1e1e" stroke-width="1"/>
<line x1="1593.5" y1="153.5" x2="1596.5" y2="153.5" stroke="#1e1e1e" stroke-width="1"/>
<line x1="1593.5" y1="207.5" x2="1596.5" y2="207.5" stroke="#1e1e1e" stroke-width="1"/>
<line x1="1593.5" y1="261.5" x2="1596.5" y2="261.5" stroke="#1e1e1e" stroke-width="1"/>
<line x1="1593.5" y1="315.5" x2="1596.5" y2="315.5" stroke="#1e1e1e" stroke-width="1"/>
<line x1="1593.5" y1="370.5" x2="1596.5" y2="370.5" stroke="#1e1e1e" stroke-width="1"/>
<line x1="1593.5" y1="424.5" x2="1596.5" y2="424.5" stroke="#1e1e1e" stroke-width="1"/>
<line x1="1593.5" y1="478.5" x2="1596.5" y2="478.5" stroke="#1e1e1e" stroke-width="1"/>
<line x1="1593.5" y1="532.5" x2="1596.5" y2="532.5" stroke="#1e1e1e" stroke-width="1"/>
<line x1="5.5" y1="731.5" x2="5.5" y2="734.5" stroke="#1e1e1e" stroke-width="1"/>
<line x1="112.5" y1="731.5" x2="112.5" y2="734.5" stroke="#1e1e1e" stroke-width="1"/>
<line x1="218.5" y1="731.5" x2="218.5" y2="734.5" stroke="#1e1e1e" stroke-width="1"/>
<line x1="325.5" y1="731.5" x2="325.5" y2="734.5" stroke="#1e1e1e" stroke-width="1"/>
<line x1="432.5" y1="731.5" x2="432.5" y2="734.5" stroke="#1e1e1e" stroke-width="1"/>
<line x1="538.5" y1="731.5" x2="538.5" y2="734.5" stroke="#1e1e1e" stroke-width="1"/>
<line x1="645.5" y1="731.5" x2="645.5" y2="734.5" stroke="#1e1e1e" stroke-width="1"/>
<line x1="752.5" y1="731.5" x2="752.5" y2="734.5" stroke="#1e1e1e" stroke-width="1"/>
<line x1="858.5" y1="731.5" x2="858.5" y2="734.5" stroke="#1e1e1e" stroke-width="1"/>
<line x1="965.5" y1="731.5" x2="965.5" y2="734.5" stroke="#1e1e1e" stroke-width="1"/>
<line x1="1072.5" y1="731.5" x2="1072.5" y2="734.5" stroke="#1e1e1e" stroke-width="1"/>
<line x1="1178.5" y1="731.5" x2="1178.5" y2="734.5" stroke="#1e1e1e" stroke-width="1"/>
<polygon points="1268.6,4.5 1280.8,4.5 1274.7,11.3" fill="#6d7580"/>
<polygon points="8,10.8 16.4,10.8 12.2,15.2" fill="#000"/>
<text x="22.56" y="17.9" font-family='"Liberation Sans", sans-serif' font-size="11" fill="#141414" stroke="#141414" stroke-width="0.28" textLength="64.85" lengthAdjust="spacingAndGlyphs" style="font-kerning:none">XAUUSD-,H4</text>
<text x="94.29" y="17.9" font-family='"Liberation Sans", sans-serif' font-size="11.5" fill="#141414" stroke="#141414" stroke-width="0.28" textLength="42.97" lengthAdjust="spacingAndGlyphs" style="font-kerning:none">1710.60</text>
<text x="140.78" y="17.9" font-family='"Liberation Sans", sans-serif' font-size="11.5" fill="#141414" stroke="#141414" stroke-width="0.28" textLength="43.55" lengthAdjust="spacingAndGlyphs" style="font-kerning:none">1717.06</text>
<text x="187.59" y="17.9" font-family='"Liberation Sans", sans-serif' font-size="11.5" fill="#141414" stroke="#141414" stroke-width="0.28" textLength="43.21" lengthAdjust="spacingAndGlyphs" style="font-kerning:none">1709.62</text>
<text x="234.08" y="17.9" font-family='"Liberation Sans", sans-serif' font-size="11.5" fill="#141414" stroke="#141414" stroke-width="0.28" textLength="43.49" lengthAdjust="spacingAndGlyphs" style="font-kerning:none">1716.99</text>
<text x="1599.09" y="49.2" font-family='"Liberation Sans", sans-serif' font-size="11.5" fill="#141414" stroke="#141414" stroke-width="0.28" textLength="42.97" lengthAdjust="spacingAndGlyphs" style="font-kerning:none">1770.20</text>
<text x="1599.09" y="103.4" font-family='"Liberation Sans", sans-serif' font-size="11.5" fill="#141414" stroke="#141414" stroke-width="0.28" textLength="42.97" lengthAdjust="spacingAndGlyphs" style="font-kerning:none">1761.40</text>
<text x="1599.09" y="157.5" font-family='"Liberation Sans", sans-serif' font-size="11.5" fill="#141414" stroke="#141414" stroke-width="0.28" textLength="42.97" lengthAdjust="spacingAndGlyphs" style="font-kerning:none">1752.70</text>
<text x="1599.09" y="211.7" font-family='"Liberation Sans", sans-serif' font-size="11.5" fill="#141414" stroke="#141414" stroke-width="0.28" textLength="42.97" lengthAdjust="spacingAndGlyphs" style="font-kerning:none">1743.90</text>
<text x="1599.09" y="265.9" font-family='"Liberation Sans", sans-serif' font-size="11.5" fill="#141414" stroke="#141414" stroke-width="0.28" textLength="42.97" lengthAdjust="spacingAndGlyphs" style="font-kerning:none">1735.10</text>
<text x="1599.09" y="320.1" font-family='"Liberation Sans", sans-serif' font-size="11.5" fill="#141414" stroke="#141414" stroke-width="0.28" textLength="42.97" lengthAdjust="spacingAndGlyphs" style="font-kerning:none">1726.50</text>
<text x="1599.09" y="428.4" font-family='"Liberation Sans", sans-serif' font-size="11.5" fill="#141414" stroke="#141414" stroke-width="0.28" textLength="42.97" lengthAdjust="spacingAndGlyphs" style="font-kerning:none">1708.80</text>
<text x="1599.09" y="482.6" font-family='"Liberation Sans", sans-serif' font-size="11.5" fill="#141414" stroke="#141414" stroke-width="0.28" textLength="42.97" lengthAdjust="spacingAndGlyphs" style="font-kerning:none">1700.00</text>
<text x="1599.09" y="536.8" font-family='"Liberation Sans", sans-serif' font-size="11.5" fill="#141414" stroke="#141414" stroke-width="0.28" textLength="42.97" lengthAdjust="spacingAndGlyphs" style="font-kerning:none">1691.20</text>
<rect x="1594" y="303.4" width="52.6" height="13.2" fill="#ffa500"/>
<text x="1599.50" y="314.6" font-family='"Liberation Sans", sans-serif' font-size="11.5" fill="#fff4c0" stroke="#fff4c0" stroke-width="0.28" textLength="42.71" lengthAdjust="spacingAndGlyphs" style="font-kerning:none">1727.38</text>
<rect x="1594.4" y="434.9" width="52.2" height="13.6" fill="#ffa500"/>
<text x="1599.49" y="446.8" font-family='"Liberation Sans", sans-serif' font-size="11.5" fill="#fff4c0" stroke="#fff4c0" stroke-width="0.28" textLength="43.13" lengthAdjust="spacingAndGlyphs" style="font-kerning:none">1706.06</text>
<rect x="1595" y="366" width="52" height="13.7" fill="#000"/>
<text x="1599.08" y="377.9" font-family='"Liberation Sans", sans-serif' font-size="11.5" fill="#ffffff" stroke="#ffffff" stroke-width="0.28" textLength="43.69" lengthAdjust="spacingAndGlyphs" style="font-kerning:none">1716.99</text>
<text x="7.74" y="576.9" font-family='"Liberation Sans", sans-serif' font-size="11.5" fill="#141414" stroke="#141414" stroke-width="0.28" textLength="150.05" lengthAdjust="spacingAndGlyphs" style="font-kerning:none">MACD(12,26,9) 0.355 -0.337</text>
<text x="1595.97" y="575.9" font-family='"Liberation Sans", sans-serif' font-size="11.5" fill="#141414" stroke="#141414" stroke-width="0.28" textLength="31.17" lengthAdjust="spacingAndGlyphs" style="font-kerning:none">2.118</text>
<text x="1596.12" y="593.7" font-family='"Liberation Sans", sans-serif' font-size="11.5" fill="#141414" stroke="#141414" stroke-width="0.28" textLength="24.07" lengthAdjust="spacingAndGlyphs" style="font-kerning:none">0.00</text>
<text x="1596.05" y="727.9" font-family='"Liberation Sans", sans-serif' font-size="11.5" fill="#141414" stroke="#141414" stroke-width="0.28" textLength="41.97" lengthAdjust="spacingAndGlyphs" style="font-kerning:none">-12.015</text>
<text x="3.80" y="745.8" font-family='"Liberation Sans", sans-serif' font-size="11.5" fill="#141414" stroke="#141414" stroke-width="0.28" textLength="67.20" lengthAdjust="spacingAndGlyphs" style="font-kerning:none">18 Aug 2022</text>
<text x="111.00" y="745.8" font-family='"Liberation Sans", sans-serif' font-size="11.5" fill="#141414" stroke="#141414" stroke-width="0.28" textLength="70.67" lengthAdjust="spacingAndGlyphs" style="font-kerning:none">19 Aug 16:00</text>
<text x="216.99" y="745.8" font-family='"Liberation Sans", sans-serif' font-size="11.5" fill="#141414" stroke="#141414" stroke-width="0.28" textLength="71.57" lengthAdjust="spacingAndGlyphs" style="font-kerning:none">23 Aug 00:00</text>
<text x="323.89" y="745.8" font-family='"Liberation Sans", sans-serif' font-size="11.5" fill="#141414" stroke="#141414" stroke-width="0.28" textLength="71.57" lengthAdjust="spacingAndGlyphs" style="font-kerning:none">24 Aug 08:00</text>
<text x="430.60" y="745.8" font-family='"Liberation Sans", sans-serif' font-size="11.5" fill="#141414" stroke="#141414" stroke-width="0.28" textLength="70.97" lengthAdjust="spacingAndGlyphs" style="font-kerning:none">25 Aug 16:00</text>
<text x="537.30" y="745.8" font-family='"Liberation Sans", sans-serif' font-size="11.5" fill="#141414" stroke="#141414" stroke-width="0.28" textLength="71.47" lengthAdjust="spacingAndGlyphs" style="font-kerning:none">29 Aug 00:00</text>
<text x="644.35" y="745.8" font-family='"Liberation Sans", sans-serif' font-size="11.5" fill="#141414" stroke="#141414" stroke-width="0.28" textLength="70.92" lengthAdjust="spacingAndGlyphs" style="font-kerning:none">30 Aug 08:00</text>
<text x="750.75" y="745.8" font-family='"Liberation Sans", sans-serif' font-size="11.5" fill="#141414" stroke="#141414" stroke-width="0.28" textLength="70.92" lengthAdjust="spacingAndGlyphs" style="font-kerning:none">31 Aug 16:00</text>
<text x="857.51" y="745.8" font-family='"Liberation Sans", sans-serif' font-size="11.5" fill="#141414" stroke="#141414" stroke-width="0.28" textLength="63.25" lengthAdjust="spacingAndGlyphs" style="font-kerning:none">2 Sep 00:00</text>
<text x="964.03" y="745.8" font-family='"Liberation Sans", sans-serif' font-size="11.5" fill="#141414" stroke="#141414" stroke-width="0.28" textLength="63.94" lengthAdjust="spacingAndGlyphs" style="font-kerning:none">5 Sep 08:00</text>
<text x="1070.80" y="745.8" font-family='"Liberation Sans", sans-serif' font-size="11.5" fill="#141414" stroke="#141414" stroke-width="0.28" textLength="63.66" lengthAdjust="spacingAndGlyphs" style="font-kerning:none">6 Sep 16:00</text>
<text x="1177.39" y="745.8" font-family='"Liberation Sans", sans-serif' font-size="11.5" fill="#141414" stroke="#141414" stroke-width="0.28" textLength="63.47" lengthAdjust="spacingAndGlyphs" style="font-kerning:none">8 Sep 00:00</text>
</svg></body></html>
